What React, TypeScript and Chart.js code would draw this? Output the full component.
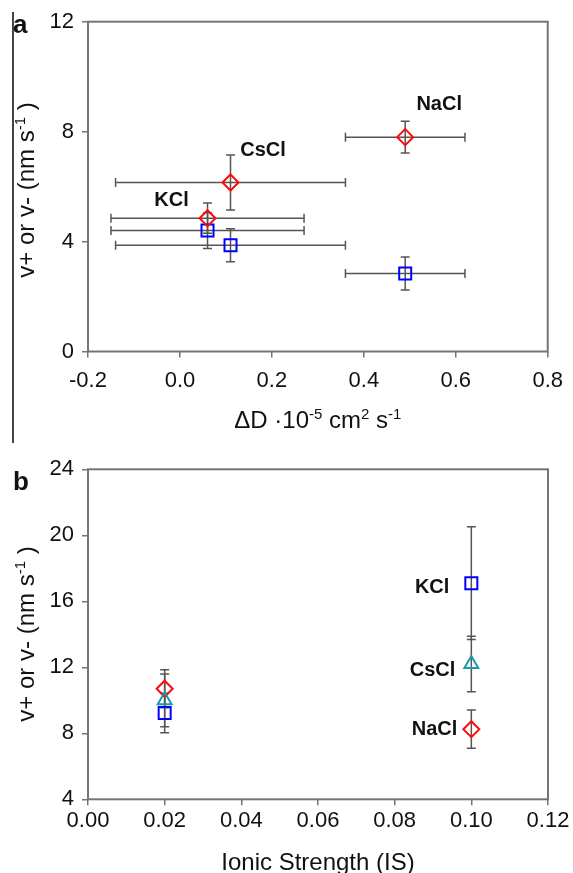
import React, { useEffect, useRef } from "react";
import { Chart, registerables } from "chart.js";

Chart.register(...registerables);

const FONT = '"Liberation Sans", Arial, Helvetica, sans-serif';

// ---------- Panel a data ----------
const saltsA = ["KCl", "CsCl", "NaCl"];
const deltaD = [0.06, 0.11, 0.49];
const deltaDErr = [0.21, 0.25, 0.13];
const vPlusA = [4.85, 6.15, 7.8];
const vPlusAErr = [0.55, 1.0, 0.58];
const vMinusA = [4.4, 3.87, 2.84];
const vMinusAErr = [0.65, 0.6, 0.6];

// ---------- Panel b data ----------
const ionicStrength = [0.02, 0.1];
const kclB = [9.23, 17.1];
const kclBErr = [1.2, 3.42];
const csclB = [10.0, 12.2];
const csclBErr = [1.6, 1.68];
const naclB = [10.7, 8.25];
const naclBErr = [1.15, 1.16];
const saltsB = ["KCl", "CsCl", "NaCl"];

const RED = "#ff0a0a";
const BLUE = "#0000ff";
const TEAL = "#1a9bab";
const FRAME = "#747474";
const ERR = "#555555";

type Seg = { t: string; sup?: boolean };

function drawRich(ctx: CanvasRenderingContext2D, segs: Seg[], x: number, y: number, size: number, rotate: boolean) {
  ctx.save();
  ctx.translate(x, y);
  if (rotate) ctx.rotate(-Math.PI / 2);
  ctx.textBaseline = "alphabetic";
  ctx.textAlign = "left";
  ctx.fillStyle = "#111";
  const supSize = Math.round(size * 0.62);
  let total = 0;
  for (const s of segs) {
    ctx.font = `${s.sup ? supSize : size}px ${FONT}`;
    total += ctx.measureText(s.t).width;
  }
  let cx = -total / 2;
  for (const s of segs) {
    ctx.font = `${s.sup ? supSize : size}px ${FONT}`;
    ctx.fillText(s.t, cx, s.sup ? -size * 0.36 : 0);
    cx += ctx.measureText(s.t).width;
  }
  ctx.restore();
}

const pts = (xs: number[], ys: number[]) => ys.map((y, i) => ({ x: xs[i], y }));

type LabelSpec = { text: string; ds: number; idx: number; dx: number; dy: number; align: CanvasTextAlign };

function makePlugin(opts: {
  letter: string;
  letterY: number;
  xTitle: Seg[];
  xTitleY: number;
  yTitle: Seg[];
  yTitleY: number;
  labels: LabelSpec[];
}) {
  return {
    id: "custom_" + opts.letter,
    beforeDatasetsDraw(chart: any) {
      const { ctx } = chart;
      const xs = chart.scales.x;
      const ys = chart.scales.y;
      ctx.save();
      ctx.strokeStyle = ERR;
      ctx.lineWidth = 1.5;
      const cap = 4.5;
      chart.data.datasets.forEach((ds: any, di: number) => {
        ds.data.forEach((p: any, i: number) => {
          const px = xs.getPixelForValue(p.x);
          const py = ys.getPixelForValue(p.y);
          ctx.beginPath();
          if (ds.yErr) {
            const t = ys.getPixelForValue(p.y + ds.yErr[i]);
            const b = ys.getPixelForValue(p.y - ds.yErr[i]);
            ctx.moveTo(px, t); ctx.lineTo(px, b);
            ctx.moveTo(px - cap, t); ctx.lineTo(px + cap, t);
            ctx.moveTo(px - cap, b); ctx.lineTo(px + cap, b);
          }
          if (ds.xErr) {
            const l = xs.getPixelForValue(p.x - ds.xErr[i]);
            const r = xs.getPixelForValue(p.x + ds.xErr[i]);
            ctx.moveTo(l, py); ctx.lineTo(r, py);
            ctx.moveTo(l, py - cap); ctx.lineTo(l, py + cap);
            ctx.moveTo(r, py - cap); ctx.lineTo(r, py + cap);
          }
          ctx.stroke();
        });
      });
      ctx.restore();
    },
    afterDraw(chart: any) {
      const { ctx, chartArea: a } = chart;
      ctx.save();
      ctx.strokeStyle = FRAME;
      ctx.lineWidth = 2;
      ctx.strokeRect(a.left, a.top, a.right - a.left, a.bottom - a.top);
      // salt labels
      ctx.fillStyle = "#111";
      ctx.font = `bold 20px ${FONT}`;
      ctx.textBaseline = "middle";
      for (const L of opts.labels) {
        const el = chart.getDatasetMeta(L.ds).data[L.idx];
        ctx.textAlign = L.align;
        ctx.fillText(L.text, el.x + L.dx, el.y + L.dy);
      }
      // panel letter
      ctx.font = `bold 26px ${FONT}`;
      ctx.textAlign = "left";
      ctx.textBaseline = "alphabetic";
      ctx.fillText(opts.letter, 13, opts.letterY);
      ctx.restore();
      const cxm = (a.left + a.right) / 2;
      drawRich(ctx, opts.xTitle, cxm, opts.xTitleY, 24, false);
      drawRich(ctx, opts.yTitle, 34, opts.yTitleY, 24, true);
    },
  };
}

function axisOpts(min: number, max: number, step: number, dec: number, pad: number, fitSize: number, isX: boolean) {
  return {
    type: "linear",
    min,
    max,
    afterFit: (s: any) => {
      if (isX) s.height = fitSize;
      else s.width = fitSize;
    },
    border: { display: false },
    grid: {
      display: true,
      drawOnChartArea: false,
      drawTicks: true,
      tickLength: 6,
      color: FRAME,
      lineWidth: 1.5,
    },
    ticks: {
      stepSize: step,
      padding: pad,
      color: "#111",
      font: { family: FONT, size: 22 },
      callback: (v: number) => (Math.abs(v) < 1e-9 ? 0 : v).toFixed(dec),
    },
  };
}

const yTitleSegs: Seg[] = [{ t: "v+ or v- (nm s" }, { t: "-1", sup: true }, { t: " )" }];

function PanelA() {
  const ref = useRef<HTMLCanvasElement>(null);
  useEffect(() => {
    const plugin = makePlugin({
      letter: "a",
      letterY: 33,
      xTitle: [{ t: "\u0394D \u00b710" }, { t: "-5", sup: true }, { t: " cm" }, { t: "2", sup: true }, { t: " s" }, { t: "-1", sup: true }],
      xTitleY: 428,
      yTitle: yTitleSegs,
      yTitleY: 190,
      labels: [
        { text: saltsA[0], ds: 0, idx: 0, dx: -36, dy: -18, align: "center" },
        { text: saltsA[1], ds: 0, idx: 1, dx: 32.5, dy: -31.5, align: "center" },
        { text: saltsA[2], ds: 0, idx: 2, dx: 34, dy: -33, align: "center" },
      ],
    });
    const chart = new Chart(ref.current!, {
      type: "scatter",
      data: {
        datasets: [
          {
            label: "v+",
            data: pts(deltaD, vPlusA),
            xErr: deltaDErr,
            yErr: vPlusAErr,
            pointStyle: "rectRot",
            radius: 8,
            borderColor: RED,
            backgroundColor: "rgba(0,0,0,0)",
            borderWidth: 2,
          } as any,
          {
            label: "v-",
            data: pts(deltaD, vMinusA),
            xErr: deltaDErr,
            yErr: vMinusAErr,
            pointStyle: "rect",
            radius: 8.5,
            borderColor: BLUE,
            backgroundColor: "rgba(0,0,0,0)",
            borderWidth: 2,
          } as any,
        ],
      },
      options: {
        responsive: false,
        animation: false,
        layout: { padding: { left: 0, top: 21.7, right: 25, bottom: 0 } },
        plugins: { legend: { display: false }, tooltip: { enabled: false } },
        scales: {
          x: axisOpts(-0.2, 0.8, 0.2, 1, 10, 88.5, true) as any,
          y: axisOpts(0, 12, 4, 0, 8, 88, false) as any,
        },
      },
      plugins: [plugin],
    });
    return () => chart.destroy();
  }, []);
  return <canvas ref={ref} width={573} height={440} style={{ position: "absolute", left: 0, top: 0, width: 573, height: 440 }} />;
}

function PanelB() {
  const ref = useRef<HTMLCanvasElement>(null);
  useEffect(() => {
    const plugin = makePlugin({
      letter: "b",
      letterY: 50,
      xTitle: [{ t: "Ionic Strength (IS)" }],
      xTitleY: 429.5,
      yTitle: yTitleSegs,
      yTitleY: 194,
      labels: [
        { text: saltsB[0], ds: 0, idx: 1, dx: -22, dy: 4, align: "right" },
        { text: saltsB[1], ds: 1, idx: 1, dx: -16, dy: 6, align: "right" },
        { text: saltsB[2], ds: 2, idx: 1, dx: -14, dy: 0.5, align: "right" },
      ],
    });
    const chart = new Chart(ref.current!, {
      type: "scatter",
      data: {
        datasets: [
          {
            label: "KCl",
            data: pts(ionicStrength, kclB),
            yErr: kclBErr,
            pointStyle: "rect",
            radius: 8.5,
            borderColor: BLUE,
            backgroundColor: "rgba(0,0,0,0)",
            borderWidth: 2,
          } as any,
          {
            label: "CsCl",
            data: pts(ionicStrength, csclB),
            yErr: csclBErr,
            pointStyle: "triangle",
            radius: 8,
            borderColor: TEAL,
            backgroundColor: "rgba(0,0,0,0)",
            borderWidth: 2,
          } as any,
          {
            label: "NaCl",
            data: pts(ionicStrength, naclB),
            yErr: naclBErr,
            pointStyle: "rectRot",
            radius: 8,
            borderColor: RED,
            backgroundColor: "rgba(0,0,0,0)",
            borderWidth: 2,
          } as any,
        ],
      },
      options: {
        responsive: false,
        animation: false,
        layout: { padding: { left: 0, top: 29.3, right: 25, bottom: 0 } },
        plugins: { legend: { display: false }, tooltip: { enabled: false } },
        scales: {
          x: axisOpts(0, 0.12, 0.02, 2, 2, 73.7, true) as any,
          y: axisOpts(4, 24, 4, 0, 8, 88, false) as any,
        },
      },
      plugins: [plugin],
    });
    return () => chart.destroy();
  }, []);
  return <canvas ref={ref} width={573} height={433} style={{ position: "absolute", left: 0, top: 440, width: 573, height: 433 }} />;
}

export default function App() {
  return (
    <div style={{ position: "absolute", left: 0, top: 0, width: 573, height: 873, background: "#fff", overflow: "hidden" }}>
      <PanelA />
      <PanelB />
      <div style={{ position: "absolute", left: 12, top: 12, width: 1.5, height: 431, background: "#444" }} />
    </div>
  );
}
